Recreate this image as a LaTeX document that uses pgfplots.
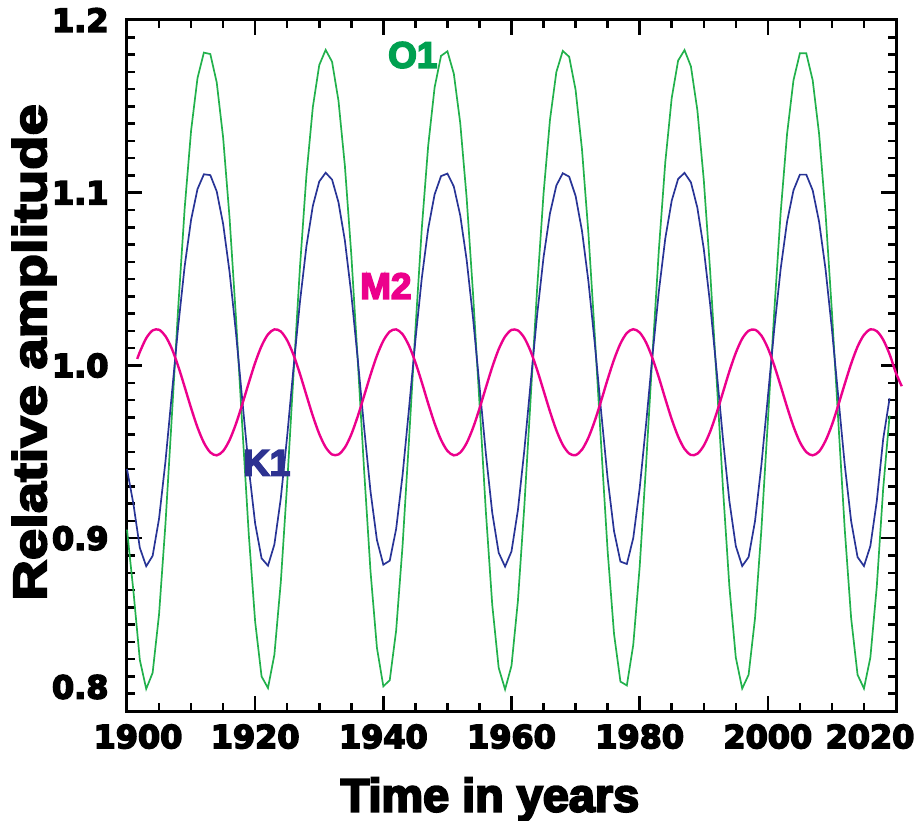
\documentclass[border=0pt]{standalone}
\usepackage{pgfplots}
\pgfplotsset{compat=1.18}
\usepackage{fontspec}
\usetikzlibrary{calc}
\newfontfamily\tickfont{DejaVu Sans}[BoldFeatures={FakeBold=5}]
\newfontfamily\labfont{Liberation Sans}[BoldFeatures={FakeBold=4.5}]
\newfontfamily\ylabfont{Liberation Sans}[BoldFeatures={FakeBold=4.5,FakeStretch=1.2}]
\definecolor{oonecol}{RGB}{34,177,76}
\definecolor{oonetxt}{RGB}{0,160,80}
\definecolor{konecol}{RGB}{40,52,150}
\definecolor{konetxt}{RGB}{45,50,145}
\definecolor{mtwocol}{RGB}{236,0,140}
\begin{document}
\begin{tikzpicture}
\begin{axis}[
  scale only axis, width=769bp, height=691bp,
  xmin=1900, xmax=2020, ymin=0.8, ymax=1.2,
  clip=false,
  axis line style={line width=3bp},
  every tick/.style={line width=2.5bp, black},
  major tick length=15bp, minor tick length=8bp,
  tick align=inside, tickpos=both,
  xtick={1900,1920,1940,1960,1980,2000,2020},
  xticklabels={\hspace*{22bp}1900,1920,1940,1960,1980,2000,2020\hspace*{52bp}},
  minor xtick={1905,1910,1915,1925,1930,1935,1945,1950,1955,1965,1970,1975,1985,1990,1995,2005,2010,2015},
  ytick={0.9,1.0,1.1,1.2},
  yticklabels={0.9,1.0,1.1,1.2},
  extra y ticks={0.8}, extra y tick labels={0.8},
  extra y tick style={yticklabel style={yshift=24bp}},
  minor ytick={0.81,0.82,0.83,0.84,0.85,0.86,0.87,0.88,0.89,0.91,0.92,0.93,0.94,0.95,0.96,0.97,0.98,0.99,1.01,1.02,1.03,1.04,1.05,1.06,1.07,1.08,1.09,1.11,1.12,1.13,1.14,1.15,1.16,1.17,1.18,1.19},
  /pgf/number format/assume math mode=true,
  tick label style={font=\tickfont\bfseries\fontsize{32}{34}\selectfont},
  xticklabel style={yshift=-10bp},
  yticklabel style={xshift=-15bp},
  xlabel={Time in years},
  ylabel={Relative amplitude},
  xlabel style={font=\labfont\bfseries\fontsize{47}{50}\selectfont, at={(axis description cs:0.472,-0.1455)}, anchor=base},
  ylabel style={font=\ylabfont\bfseries\fontsize{47}{50}\selectfont, at={(axis description cs:-0.121,0.519)}, anchor=center},
]
\addplot[oonecol, line width=1.7bp] coordinates {
(1900,0.905)(1901,0.8695)(1902,0.8296)(1903,0.8128)(1904,0.8221)(1905,0.8559)(1906,0.9082)(1907,0.9707)(1908,1.0341)(1909,1.0910)
(1910,1.1359)(1911,1.1663)(1912,1.1811)(1913,1.1803)(1914,1.1639)(1915,1.1320)(1916,1.0857)(1917,1.0280)(1918,0.9642)(1919,0.9024)
(1920,0.8516)(1921,0.8200)(1922,0.8133)(1923,0.8326)(1924,0.8746)(1925,0.9319)(1926,0.9958)(1927,1.0574)(1928,1.1102)(1929,1.1496)
(1930,1.1739)(1931,1.1827)(1932,1.1758)(1933,1.1533)(1934,1.1156)(1935,1.0643)(1936,1.0034)(1937,0.9394)(1938,0.8808)(1939,0.8366)
(1940,0.8143)(1941,0.8178)(1942,0.8466)(1943,0.8956)(1944,0.9565)(1945,1.0205)(1946,1.0793)(1947,1.1272)(1948,1.1609)(1949,1.1792)
(1950,1.1819)(1951,1.1689)(1952,1.1404)(1953,1.0971)(1954,1.0414)(1955,0.9784)(1956,0.9154)(1957,0.8613)(1958,0.8250)(1959,0.8125)
(1960,0.8262)(1961,0.8637)(1962,0.9184)(1963,0.9816)(1964,1.0445)(1965,1.0995)(1966,1.1421)(1967,1.1699)(1968,1.1821)(1969,1.1787)
(1970,1.1596)(1971,1.1251)(1972,1.0766)(1973,1.0174)(1974,0.9533)(1975,0.8927)(1976,0.8446)(1977,0.8170)(1978,0.8148)(1979,0.8383)
(1980,0.8834)(1981,0.9426)(1982,1.0066)(1983,1.0672)(1984,1.1178)(1985,1.1548)(1986,1.1765)(1987,1.1826)(1988,1.1731)(1989,1.1479)
(1990,1.1077)(1991,1.0545)(1992,0.9926)(1993,0.9288)(1994,0.8720)(1995,0.8310)(1996,0.8130)(1997,0.8210)(1998,0.8537)(1999,0.9053)
(2000,0.9675)(2001,1.0311)(2002,1.0884)(2003,1.1340)(2004,1.1651)(2005,1.1807)(2006,1.1807)(2007,1.1651)(2008,1.1340)(2009,1.0884)
(2010,1.0311)(2011,0.9675)(2012,0.9053)(2013,0.8537)(2014,0.8210)(2015,0.8130)(2016,0.8310)(2017,0.8720)(2018,0.9288)(2019,0.971)
};
\addplot[konecol, line width=1.7bp] coordinates {
(1900,0.940)(1901,0.9199)(1902,0.8945)(1903,0.8838)(1904,0.8898)(1905,0.9113)(1906,0.9444)(1907,0.9836)(1908,1.0229)(1909,1.0575)
(1910,1.0843)(1911,1.1021)(1912,1.1107)(1913,1.1102)(1914,1.1008)(1915,1.0820)(1916,1.0543)(1917,1.0191)(1918,0.9796)(1919,0.9408)
(1920,0.9085)(1921,0.8884)(1922,0.8841)(1923,0.8964)(1924,0.9231)(1925,0.9593)(1926,0.9992)(1927,1.0372)(1928,1.0690)(1929,1.0924)
(1930,1.1065)(1931,1.1116)(1932,1.1076)(1933,1.0945)(1934,1.0723)(1935,1.0414)(1936,1.0040)(1937,0.9641)(1938,0.9271)(1939,0.8990)
(1940,0.8847)(1941,0.8870)(1942,0.9054)(1943,0.9365)(1944,0.9748)(1945,1.0145)(1946,1.0505)(1947,1.0792)(1948,1.0990)(1949,1.1096)
(1950,1.1111)(1951,1.1036)(1952,1.0869)(1953,1.0612)(1954,1.0274)(1955,0.9884)(1956,0.9490)(1957,0.9147)(1958,0.8916)(1959,0.8836)
(1960,0.8924)(1961,0.9163)(1962,0.9509)(1963,0.9904)(1964,1.0292)(1965,1.0626)(1966,1.0880)(1967,1.1042)(1968,1.1113)(1969,1.1093)
(1970,1.0982)(1971,1.0779)(1972,1.0488)(1973,1.0126)(1974,0.9728)(1975,0.9347)(1976,0.9041)(1977,0.8865)(1978,0.8851)(1979,0.9001)
(1980,0.9288)(1981,0.9661)(1982,1.0060)(1983,1.0431)(1984,1.0736)(1985,1.0954)(1986,1.1080)(1987,1.1115)(1988,1.1060)(1989,1.0914)
(1990,1.0676)(1991,1.0354)(1992,0.9973)(1993,0.9574)(1994,0.9215)(1995,0.8955)(1996,0.8839)(1997,0.8891)(1998,0.9099)(1999,0.9426)
(2000,0.9816)(2001,1.0210)(2002,1.0559)(2003,1.0832)(2004,1.1014)(2005,1.1105)(2006,1.1105)(2007,1.1014)(2008,1.0832)(2009,1.0559)
(2010,1.0210)(2011,0.9816)(2012,0.9426)(2013,0.9099)(2014,0.8891)(2015,0.8839)(2016,0.8955)(2017,0.9215)(2018,0.9574)(2019,0.981)
};
\addplot[mtwocol, line width=2.4bp, smooth] coordinates {
(1901.6,1.0038)(1902,1.0078)(1903,1.0158)(1904,1.0203)(1905,1.0207)(1906,1.0170)(1907,1.0097)(1908,0.9995)(1909,0.9876)
(1910,0.9754)(1911,0.9642)(1912,0.9553)(1913,0.9497)(1914,0.9480)(1915,0.9505)(1916,0.9568)(1917,0.9662)(1918,0.9777)(1919,0.9899)
(1920,1.0016)(1921,1.0113)(1922,1.0180)(1923,1.0209)(1924,1.0197)(1925,1.0145)(1926,1.0060)(1927,0.9950)(1928,0.9828)(1929,0.9708)
(1930,0.9604)(1931,0.9527)(1932,0.9485)(1933,0.9485)(1934,0.9525)(1935,0.9601)(1936,0.9705)(1937,0.9824)(1938,0.9946)(1939,1.0057)
(1940,1.0143)(1941,1.0196)(1942,1.0209)(1943,1.0181)(1944,1.0115)(1945,1.0019)(1946,0.9903)(1947,0.9780)(1948,0.9665)(1949,0.9570)
(1950,0.9506)(1951,0.9480)(1952,0.9496)(1953,0.9551)(1954,0.9639)(1955,0.9750)(1956,0.9872)(1957,0.9991)(1958,1.0094)(1959,1.0168)
(1960,1.0206)(1961,1.0203)(1962,1.0160)(1963,1.0081)(1964,0.9975)(1965,0.9855)(1966,0.9734)(1967,0.9625)(1968,0.9541)(1969,0.9491)
(1970,0.9481)(1971,0.9513)(1972,0.9582)(1973,0.9680)(1974,0.9797)(1975,0.9920)(1976,1.0034)(1977,1.0127)(1978,1.0188)(1979,1.0210)
(1980,1.0191)(1981,1.0133)(1982,1.0042)(1983,0.9930)(1984,0.9807)(1985,0.9689)(1986,0.9589)(1987,0.9517)(1988,0.9482)(1989,0.9489)
(1990,0.9536)(1991,0.9617)(1992,0.9724)(1993,0.9845)(1994,0.9966)(1995,1.0073)(1996,1.0155)(1997,1.0201)(1998,1.0207)(1999,1.0173)
(2000,1.0101)(2001,1.0000)(2002,0.9882)(2003,0.9760)(2004,0.9647)(2005,0.9557)(2006,0.9499)(2007,0.9480)(2008,0.9502)(2009,0.9564)
(2010,0.9656)(2011,0.9771)(2012,0.9893)(2013,1.0010)(2014,1.0109)(2015,1.0177)(2016,1.0209)(2017,1.0199)(2018,1.0149)(2019,1.0065)
(2020,0.9956)(2020.9,0.9880)
};
\node[text=oonetxt, font=\labfont\bfseries\fontsize{37}{40}\selectfont] at (axis cs:1944.6,1.1797) {O1};
\node[text=mtwocol, font=\labfont\bfseries\fontsize{37}{40}\selectfont] at (axis cs:1940.4,1.046) {M2};
\node[text=konetxt, font=\labfont\bfseries\fontsize{37}{40}\selectfont] at (axis cs:1921.8,0.9436) {K1};
\coordinate (sw) at (rel axis cs:0,0);
\coordinate (ne) at (rel axis cs:1,1);
\end{axis}
\pgfresetboundingbox
\path ($(sw)+(-127bp,-110bp)$) rectangle ($(ne)+(22bp,20bp)$);
\end{tikzpicture}
\end{document}
